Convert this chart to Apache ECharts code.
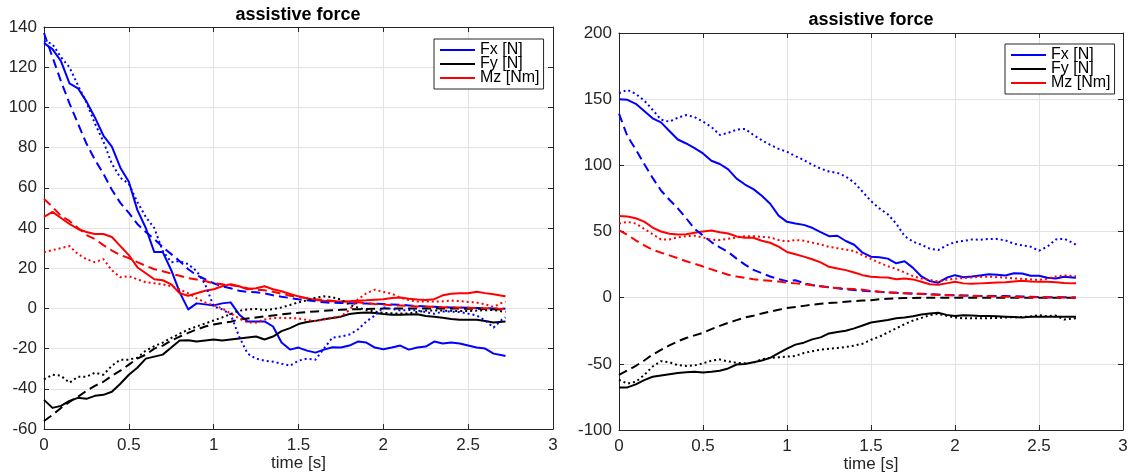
<!DOCTYPE html>
<html>
<head>
<meta charset="utf-8">
<script src="https://cdn.jsdelivr.net/npm/echarts@6/dist/echarts.min.js"></script>
<style>
  html, body { margin: 0; padding: 0; background: #fff; }
  #chart { width: 1130px; height: 474px; }
</style>
</head>
<body>
<div id="chart"></div>
<script>
// Sample times [s]
const time = [0, 0.05, 0.1, 0.15, 0.2, 0.25, 0.3, 0.35, 0.4, 0.45,
  0.5, 0.55, 0.6, 0.65, 0.7, 0.75, 0.8, 0.85, 0.9, 0.95,
  1.0, 1.05, 1.1, 1.15, 1.2, 1.25, 1.3, 1.35, 1.4, 1.45,
  1.5, 1.55, 1.6, 1.65, 1.7, 1.75, 1.8, 1.85, 1.9, 1.95,
  2.0, 2.05, 2.1, 2.15, 2.2, 2.25, 2.3, 2.35, 2.4, 2.45,
  2.5, 2.55, 2.6, 2.65, 2.7, 2.72];

// Axis ticks
const timeTicks = [0, 0.5, 1, 1.5, 2, 2.5, 3];
const leftForceTicks = [-60, -40, -20, 0, 20, 40, 60, 80, 100, 120, 140];
const rightForceTicks = [-100, -50, 0, 50, 100, 150, 200];

const legendNames = ['Fx [N]', 'Fy [N]', 'Mz [Nm]'];

// ---- left panel ----
const fxSolidL = [132, 129, 123, 112, 109.5, 103, 95, 86, 80.5, 70,
  63, 49, 40, 28, 28, 19, 8, -0.5, 2.5, 2,
  1.5, 2.5, 3, -3, -6.5, -6.5, -6.5, -9, -17, -20.5,
  -19.5, -21, -22, -20.5, -19.3, -19.5, -18.5, -16.5, -17, -19.5,
  -20.3, -19.5, -18.5, -20.5, -19.5, -19, -16.5, -17.5, -17, -17.5,
  -18.5, -19.5, -20, -22.5, -23.3, -23.7];
const fxDashL = [137, 125, 113, 102, 92, 82, 74, 67, 59, 52.5,
  47.5, 42, 38, 34.5, 30.5, 27, 23.5, 19.5, 16.5, 14.5,
  12.5, 11, 10, 8.8, 8.2, 8, 7.5, 6.5, 5.8, 5.2,
  4.5, 4, 3.5, 3, 2.8, 2.7, 2.6, 2.5, 2.4, 2.3,
  2.2, 2, 1.8, 1.5, 1.2, 0.9, 0.8, 0.6, 0.5, 0.4,
  0.3, 0.2, 0.1, 0, -0.1, -0.2];
const fxDotL = [133, 131.5, 125, 120, 111, 102.5, 92, 83, 72, 65,
  62, 53, 45.5, 40, 28.5, 23, 23.5, 22, 18.5, 12,
  1, -0.5, -3, -14, -22.5, -25, -26, -26.5, -27.5, -28.5,
  -26, -25, -25.5, -20, -14.5, -14, -13, -10.5, -6.5, -3.5,
  0.5, -0.3, -1, -0.8, -1, -1.8, -2.7, -1.6, -1.6, -1.8,
  -2.6, -3.5, -6, -9.5, -5.5, -4.5];
const fySolidL = [-45.5, -49.5, -48.5, -46, -44.5, -45, -43.5, -43, -41.5, -37.5,
  -33, -29.5, -25, -24, -23, -19.5, -16, -15.8, -16.5, -16,
  -15.5, -16, -15.5, -15, -14.5, -14, -15.5, -14, -11.3, -9.8,
  -7.8, -6.8, -6.2, -5.4, -4.8, -4.1, -2.8, -2.3, -2.1, -2.3,
  -2.8, -3.2, -3.2, -3, -2.9, -3.8, -4.2, -4.7, -5.3, -5.6,
  -5.7, -5.7, -6.3, -7, -6.6, -6.5];
const fyDashL = [-56, -53, -49.5, -46.5, -44, -41, -38.5, -36.5, -33.5, -31,
  -28, -25, -23, -20, -18.5, -16, -14, -12.2, -10.5, -9,
  -8, -7.2, -6.6, -5.5, -5, -4.5, -4, -3.5, -3, -2.5,
  -2.2, -1.8, -1.5, -1.2, -0.9, -0.7, -0.5, -0.4, -0.3, -0.2,
  -0.1, -0.1, -0.1, -0.1, -0.1, -0.1, -0.1, -0.1, -0.1, -0.1,
  -0.2, -0.2, -0.3, -0.4, -0.6, -0.7];
const fyDotL = [-35.3, -33, -33.5, -37, -34, -34, -32, -33, -28.5, -25.5,
  -25.5, -24.5, -21, -18.8, -17, -14.7, -12.6, -10.5, -9, -7.5,
  -6, -4.5, -2.8, -1.2, -0.5, -0.3, -0.8, -0.4, 0.5, 1.7,
  3, 4, 5.3, 6, 5.5, 4.5, 1.8, 0.4, -0.8, -1.6,
  -2.2, -2.4, -2.6, -2.5, -1.8, -1.1, -1.1, -1.1, -1.2, -1.3,
  -1.3, -1.1, -0.9, -0.8, -1.5, -1.7];
const mzSolidL = [45.5, 48, 45, 42, 39.5, 38, 37, 37, 35.5, 31,
  26.5, 20.5, 17.5, 14.5, 14, 12, 7.5, 6.3, 7.5, 8.8,
  9.5, 11, 12, 11, 9.5, 10, 11, 9.5, 8.5, 7.2,
  6, 5, 4.2, 3.8, 3.6, 3.4, 3.5, 3.8, 4, 4.3,
  4.6, 5.2, 5.4, 4.8, 4.4, 4.2, 4.6, 6.5, 7.3, 7.5,
  7.5, 8.3, 7.6, 7, 6.3, 6];
const mzDashL = [54.5, 50.5, 46, 43.5, 40, 36.5, 34.5, 31.5, 28.8, 26.6,
  25, 23, 21.2, 19.5, 18.5, 17.3, 16.2, 15, 14.4, 13.6,
  12.5, 12, 11.5, 11, 10, 9.4, 9, 8.3, 7.3, 6.3,
  5.7, 5.1, 4.6, 4.2, 3.8, 3.5, 3.3, 3.0, 2.6, 2.2,
  1.9, 1.6, 1.4, 1.2, 1.0, 0.9, 0.8, 0.6, 0.5, 0.4,
  0.3, 0.2, 0.1, 0, -0.3, -0.4];
const mzDotL = [28, 29, 30, 31, 27, 24.5, 23, 24.5, 19, 15.5,
  16, 14.5, 13, 12.5, 12, 11, 9.5, 7.5, 5, 3,
  1.5, 0, -2.5, -5, -7, -7, -5.5, -4.8, -4.7, -4.8,
  -5, -5.8, -6.3, -5.5, -4.6, -4, -0.8, 4.5, 7.5, 9.3,
  8.2, 7.3, 5.4, 4.1, 3.4, 3.4, 3.4, 3.5, 3.9, 3.6,
  3.2, 2.9, 2, 0.8, 2.8, 3.4];

// ---- right panel ----
const fxSolidR = [150, 149.5, 146.5, 141, 135.5, 132.5, 126, 119.5, 116.5, 113,
  109, 103.5, 101, 97, 90, 85.5, 82, 77, 71, 62,
  57.3, 56, 55, 52.8, 49.5, 46.5, 46.8, 42.8, 40, 34,
  31, 30.5, 29.5, 26, 27.5, 22.5, 16, 12.5, 11.3, 15,
  17, 15.5, 16, 16.8, 17.7, 17.3, 16.8, 18.5, 18.3, 16.6,
  16.6, 15, 14.5, 15.8, 15.2, 15];
const fxDashR = [139, 122, 112, 101, 90.5, 81, 74, 67.5, 60, 52,
  47, 42, 38, 34.5, 29.5, 25, 21, 18.5, 16, 14,
  12.5, 13.2, 11, 9.5, 8.6, 7.8, 7.1, 6.3, 5.8, 5.3,
  4.8, 4.4, 4, 3.7, 3.4, 3.2, 2.9, 2.6, 2.3, 2,
  1.9, 1.7, 1.5, 1.3, 1.3, 1.2, 1.2, 1, 0.9, 0.7,
  0.5, 0.3, 0.3, 0.3, 0.2, 0.2];
const fxDotR = [154.5, 157, 154, 149, 142, 134.5, 133, 136, 138, 136.5,
  133, 129, 123, 124.5, 127, 127.5, 123, 119, 115.5, 112.5,
  110.2, 107, 104, 100.5, 97.5, 95.3, 94.3, 91.5, 87, 80,
  73, 67.5, 63, 56, 46.5, 42.3, 40, 37, 36, 39.5,
  42, 42.8, 44, 43.8, 44.3, 44.3, 43.3, 40.8, 39.5, 38.5,
  35.5, 38.5, 44, 44.5, 41.5, 40];
const fySolidR = [-67.8, -67.8, -65.5, -62.3, -59.8, -58.8, -57.8, -57, -56.3, -56,
  -56.5, -56, -55.2, -53.5, -50.5, -50.2, -48.8, -47.5, -45.5, -42,
  -38.5, -35.5, -34, -31.5, -30, -27, -26, -25, -23.2, -21,
  -18.8, -17.8, -16.8, -15.6, -15, -14, -12.8, -12, -11.4, -13,
  -13.8, -13.3, -13.5, -13.9, -13.9, -14.1, -14.4, -14.7, -14.9, -14.5,
  -14.4, -14.4, -14.4, -14.4, -14.4, -14.4];
const fyDashR = [-58.4, -55, -51.5, -47.5, -43, -39.5, -36, -33, -30.5, -28.5,
  -26.5, -23.8, -21.3, -19, -17, -15, -13.6, -12, -10.5, -9.2,
  -7.8, -7, -6.2, -5.3, -4.6, -4, -3.6, -3, -2.6, -2.2,
  -1.9, -1.2, -0.8, -0.5, -0.3, -0.2, -0.1, -0.1, 0, 0,
  0, 0, 0, 0, 0, 0, 0, 0, 0, 0,
  0, 0, 0, 0, 0, 0];
const fyDotR = [-62, -65, -63.5, -58.5, -52, -48, -48.8, -51, -51.6, -51.2,
  -49.6, -47.6, -46.7, -48.2, -49.2, -49.6, -49.2, -46.5, -45.5, -45.1,
  -44.6, -44, -41.8, -40.5, -39.3, -38.6, -38, -37.3, -36.2, -34.8,
  -31.8, -29.5, -26.3, -23.2, -20, -17.3, -15.3, -13.2, -12.3, -13.7,
  -15, -15.6, -15.6, -15.6, -15.5, -15.3, -15, -14.8, -14.6, -14.2,
  -13.2, -14, -13.5, -16.5, -15.8, -15.5];
const mzSolidR = [61.7, 61.3, 60, 57.5, 53, 50, 48.3, 47.8, 48, 49,
  50, 50.8, 49.5, 48.5, 46.3, 45.3, 45.3, 43, 41.5, 38.5,
  34.5, 32.8, 31, 29, 26.7, 23.3, 22, 20.8, 19, 17,
  15.8, 15.4, 15.2, 13.9, 14.5, 13.8, 12, 10.2, 9.7, 10.8,
  12, 10.8, 10.5, 10.8, 11.1, 11.4, 11.6, 12.2, 12.8, 12.3,
  12.1, 12.1, 11.6, 11.1, 10.8, 10.8];
const mzDashR = [51, 47.5, 43.3, 39.5, 36.3, 34, 32, 29.8, 27.5, 25.6,
  23.5, 21.4, 19.3, 17.3, 16, 15, 14, 13.3, 12.8, 12.2,
  11.4, 10.8, 10.2, 9.4, 8.6, 7.8, 7.3, 6.8, 6.5, 6,
  5.2, 4.5, 4, 3.7, 3.3, 3, 2.7, 2.4, 2.1, 1.9,
  1.7, 1.5, 1.3, 1.2, 1, 0.8, 0.7, 0.6, 0.4, 0.3,
  0.3, 0.2, 0.1, 0.1, 0, 0];
const mzDotR = [56, 57.3, 56, 52, 48, 44, 44, 45.6, 46.5, 46.8,
  45.5, 43.8, 43.5, 44.5, 45.5, 46.4, 46.4, 46, 45.4, 43.6,
  42.5, 43.6, 43, 41.6, 40.2, 38.4, 37.4, 36.3, 35.2, 32,
  29.3, 26.4, 23.8, 21.7, 19, 16.3, 14.4, 13.4, 12.3, 13.5,
  14.3, 14.8, 15.3, 15.7, 15.9, 15.5, 15.1, 14.6, 14.2, 13.8,
  13.4, 14.4, 16, 16.8, 16.4, 16.2];

// ---- styling ----
const FONT = '"Liberation Sans", Arial, Helvetica, sans-serif';
const AXIS_COLOR = '#262626';
const GRID_COLOR = '#e2e2e2';
const BLUE = '#0000ff', BLACK = '#000000', RED = '#ff0000';
const DASHED = [9, 5];
const DOTTED = [2, 3];

const panels = [
  { rect: { left: 44, top: 27, width: 509, height: 402 }, yTicks: leftForceTicks,
    title: { x: 298, y: 6.5 }, legend: { left: 434, top: 39 },
    lines: [
      ['Fx [N]', fxSolidL, BLUE, 'solid'], ['Fy [N]', fySolidL, BLACK, 'solid'], ['Mz [Nm]', mzSolidL, RED, 'solid'],
      ['Fx [N] dashed', fxDashL, BLUE, DASHED], ['Fy [N] dashed', fyDashL, BLACK, DASHED], ['Mz [Nm] dashed', mzDashL, RED, DASHED],
      ['Fx [N] dotted', fxDotL, BLUE, DOTTED], ['Fy [N] dotted', fyDotL, BLACK, DOTTED], ['Mz [Nm] dotted', mzDotL, RED, DOTTED]
    ] },
  { rect: { left: 619, top: 33, width: 504, height: 397 }, yTicks: rightForceTicks,
    title: { x: 871, y: 11.5 }, legend: { left: 1005, top: 44 },
    lines: [
      ['Fx [N]', fxSolidR, BLUE, 'solid'], ['Fy [N]', fySolidR, BLACK, 'solid'], ['Mz [Nm]', mzSolidR, RED, 'solid'],
      ['Fx [N] dashed', fxDashR, BLUE, DASHED], ['Fy [N] dashed', fyDashR, BLACK, DASHED], ['Mz [Nm] dashed', mzDashR, RED, DASHED],
      ['Fx [N] dotted', fxDotR, BLUE, DOTTED], ['Fy [N] dotted', fyDotR, BLACK, DOTTED], ['Mz [Nm] dotted', mzDotR, RED, DOTTED]
    ] }
];

function range(ticks) {
  return { min: ticks[0], max: ticks[ticks.length - 1], interval: ticks[1] - ticks[0] };
}

const baseLine = { show: true, onZero: false, lineStyle: { color: AXIS_COLOR, width: 1 } };
const baseTick = { show: true, inside: true, length: 5, lineStyle: { color: AXIS_COLOR, width: 1 } };
const labelStyle = { color: AXIS_COLOR, fontSize: 17, fontFamily: FONT };

const grid = [], xAxis = [], yAxis = [], series = [], title = [], legend = [];

panels.forEach((p, g) => {
  grid.push(Object.assign({ containLabel: false, outerBoundsMode: 'none' }, p.rect));
  const xr = range(timeTicks), yr = range(p.yTicks);
  xAxis.push(Object.assign({
    gridIndex: g, type: 'value', position: 'bottom',
    axisLine: baseLine, axisTick: baseTick,
    axisLabel: Object.assign({ margin: 8 }, labelStyle),
    splitLine: { show: true, lineStyle: { color: GRID_COLOR, width: 1 } },
    name: 'time [s]', nameLocation: 'middle', nameGap: 26, nameMoveOverlap: false,
    nameTextStyle: { color: AXIS_COLOR, fontSize: 17, fontFamily: FONT }
  }, xr));
  xAxis.push(Object.assign({
    gridIndex: g, type: 'value', position: 'top',
    axisLine: baseLine, axisTick: baseTick,
    axisLabel: { show: false }, splitLine: { show: false }
  }, xr));
  yAxis.push(Object.assign({
    gridIndex: g, type: 'value', position: 'left',
    axisLine: baseLine, axisTick: baseTick,
    axisLabel: Object.assign({ margin: 7 }, labelStyle),
    splitLine: { show: true, lineStyle: { color: GRID_COLOR, width: 1 } }
  }, yr));
  yAxis.push(Object.assign({
    gridIndex: g, type: 'value', position: 'right',
    axisLine: baseLine, axisTick: baseTick,
    axisLabel: { show: false }, splitLine: { show: false }
  }, yr));

  p.lines.forEach(([name, values, color, dash]) => {
    series.push({
      type: 'line', name,
      xAxisIndex: 2 * g, yAxisIndex: 2 * g,
      data: time.map((t, i) => [t, values[i]]),
      showSymbol: false, symbol: 'none',
      lineStyle: { color, width: 2, type: dash, cap: 'butt', join: 'round' },
      itemStyle: { color },
      emphasis: { disabled: true },
      animation: false
    });
  });

  title.push({
    text: 'assistive force', left: p.title.x, top: p.title.y, textAlign: 'center', padding: 0,
    textStyle: { fontSize: 18, fontWeight: 'bold', color: '#000', fontFamily: FONT }
  });

  legend.push({
    data: legendNames, orient: 'vertical', left: p.legend.left, top: p.legend.top,
    icon: 'rect', itemWidth: 35, itemHeight: 2, itemGap: -2,
    padding: [3, 4, 3, 6], borderColor: AXIS_COLOR, borderWidth: 1, backgroundColor: '#fff',
    selectedMode: false,
    textStyle: { fontSize: 16, color: '#000', fontFamily: FONT }
  });
});

const chart = echarts.init(document.getElementById('chart'), null, { renderer: 'canvas' });
chart.setOption({
  animation: false,
  backgroundColor: '#fff',
  title, legend, grid, xAxis, yAxis, series,
  tooltip: { show: false }
});
</script>
</body>
</html>
